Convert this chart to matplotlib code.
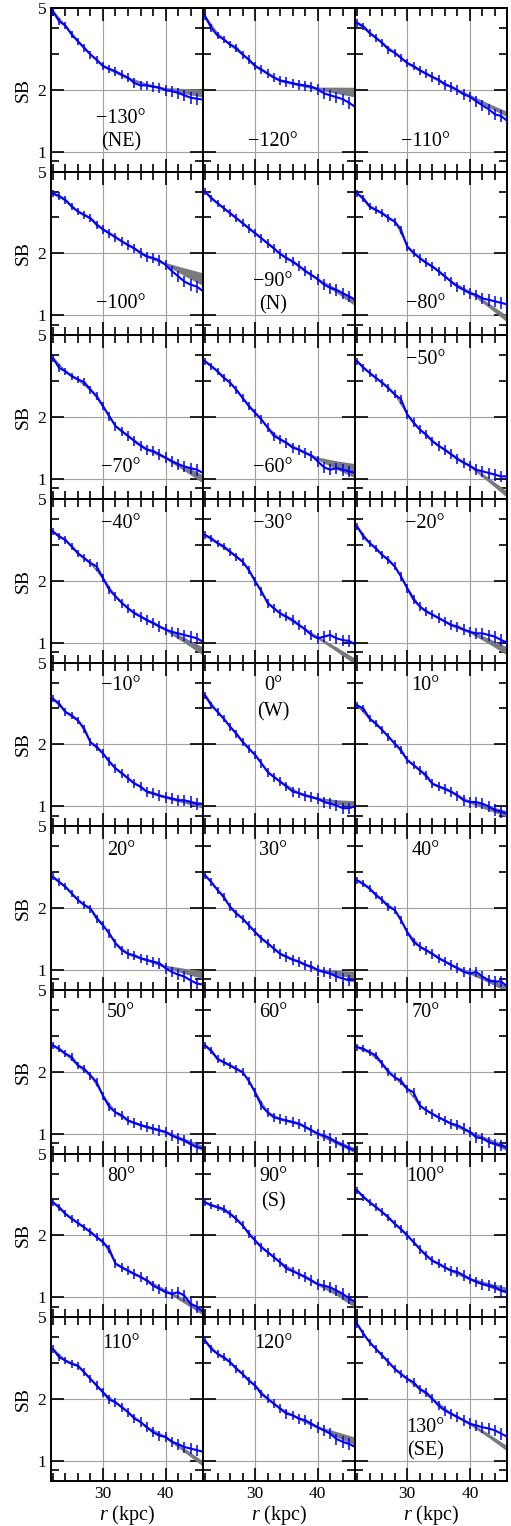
import matplotlib
matplotlib.use('Agg')
import matplotlib.pyplot as plt
from matplotlib.ticker import FixedLocator, MultipleLocator, NullFormatter, FuncFormatter

plt.rcParams['font.family'] = ['Liberation Serif', 'DejaVu Serif']
plt.rcParams['mathtext.fontset'] = 'custom'
plt.rcParams['mathtext.rm'] = 'Liberation Serif'
plt.rcParams['mathtext.it'] = 'Liberation Serif:italic'

radius = [22, 23, 24, 25, 26, 27, 28, 29, 30, 31, 32, 33, 34, 35, 36, 37, 38, 39, 40,
          41, 42, 43, 44, 45, 46]
# relative error bar size at each radius
sb_err = [0.040, 0.040, 0.040, 0.042, 0.043, 0.044, 0.045, 0.046, 0.047, 0.048, 0.050,
          0.050, 0.052, 0.053, 0.054, 0.055, 0.056, 0.058, 0.060, 0.060, 0.062, 0.063,
          0.064, 0.065, 0.066]

angles = [-130, -120, -110, -100, -90, -80, -70, -60, -50, -40, -30, -20, -10, 0, 10,
          20, 30, 40, 50, 60, 70, 80, 90, 100, 110, 120, 130]
compass = {-130: 'NE', -90: 'N', 0: 'W', 90: 'S', 130: 'SE'}

# measured surface brightness profiles
sb_m130 = [4.82, 4.31, 4.10, 3.71, 3.44, 3.20, 2.97, 2.80, 2.61, 2.53, 2.46, 2.37, 2.29, 2.16, 2.10, 2.10, 2.07, 2.05, 1.99, 1.97, 1.93, 1.88, 1.83, 1.81, 1.79]
sb_m120 = [4.56, 4.00, 3.67, 3.51, 3.32, 3.20, 2.97, 2.81, 2.61, 2.51, 2.40, 2.29, 2.22, 2.19, 2.15, 2.12, 2.10, 2.07, 2.01, 1.92, 1.88, 1.84, 1.80, 1.73, 1.65]
sb_m110 = [4.23, 4.07, 3.78, 3.58, 3.38, 3.14, 3.03, 2.86, 2.70, 2.61, 2.49, 2.40, 2.31, 2.24, 2.12, 2.07, 1.99, 1.90, 1.85, 1.76, 1.68, 1.61, 1.52, 1.49, 1.41]
sb_m100 = [3.92, 3.81, 3.64, 3.38, 3.20, 3.08, 2.97, 2.75, 2.62, 2.51, 2.40, 2.29, 2.20, 2.12, 2.01, 1.93, 1.90, 1.85, 1.76, 1.64, 1.55, 1.46, 1.41, 1.38, 1.31]
sb_m90 = [4.00, 3.71, 3.51, 3.32, 3.14, 2.97, 2.81, 2.65, 2.51, 2.37, 2.24, 2.12, 1.99, 1.90, 1.83, 1.74, 1.64, 1.57, 1.50, 1.41, 1.36, 1.33, 1.28, 1.24, 1.19]
sb_m80 = [3.92, 3.71, 3.38, 3.26, 3.14, 2.97, 2.86, 2.61, 2.16, 2.01, 1.90, 1.80, 1.73, 1.64, 1.55, 1.46, 1.38, 1.33, 1.28, 1.26, 1.21, 1.19, 1.17, 1.15, 1.13]
sb_m70 = [3.88, 3.47, 3.34, 3.16, 3.05, 2.96, 2.72, 2.53, 2.26, 2.02, 1.81, 1.71, 1.62, 1.53, 1.45, 1.39, 1.37, 1.32, 1.27, 1.22, 1.18, 1.15, 1.13, 1.11, 1.07]
sb_m60 = [3.74, 3.54, 3.34, 3.10, 2.94, 2.72, 2.48, 2.26, 2.10, 1.95, 1.78, 1.62, 1.56, 1.50, 1.42, 1.39, 1.34, 1.30, 1.22, 1.14, 1.11, 1.13, 1.11, 1.09, 1.07]
sb_m50 = [3.74, 3.47, 3.28, 3.10, 2.94, 2.77, 2.58, 2.44, 2.06, 1.88, 1.74, 1.65, 1.53, 1.45, 1.39, 1.32, 1.25, 1.20, 1.16, 1.11, 1.09, 1.07, 1.05, 1.03, 1.03]
sb_m40 = [3.47, 3.28, 3.16, 2.94, 2.72, 2.58, 2.44, 2.35, 2.06, 1.81, 1.68, 1.56, 1.47, 1.39, 1.34, 1.29, 1.25, 1.20, 1.16, 1.13, 1.11, 1.09, 1.07, 1.05, 1.01]
sb_m30 = [3.34, 3.22, 3.05, 2.94, 2.77, 2.62, 2.48, 2.26, 1.99, 1.78, 1.56, 1.47, 1.39, 1.34, 1.29, 1.22, 1.16, 1.09, 1.05, 1.07, 1.09, 1.05, 1.03, 1.02, 0.98]
sb_m20 = [3.67, 3.28, 3.05, 2.88, 2.67, 2.53, 2.35, 2.10, 1.84, 1.62, 1.50, 1.42, 1.37, 1.32, 1.27, 1.22, 1.20, 1.16, 1.13, 1.11, 1.11, 1.09, 1.07, 1.03, 1.00]
sb_m10 = [3.34, 3.16, 2.88, 2.77, 2.62, 2.39, 2.05, 1.95, 1.81, 1.65, 1.53, 1.45, 1.37, 1.29, 1.25, 1.18, 1.16, 1.13, 1.11, 1.09, 1.07, 1.07, 1.05, 1.03, 1.03]
sb_0 = [3.47, 3.10, 2.88, 2.67, 2.44, 2.26, 2.06, 1.91, 1.78, 1.62, 1.47, 1.39, 1.32, 1.25, 1.18, 1.16, 1.13, 1.11, 1.09, 1.05, 1.03, 1.01, 0.98, 0.98, 1.00]
sb_10 = [3.10, 2.99, 2.67, 2.53, 2.35, 2.18, 2.02, 1.88, 1.68, 1.59, 1.50, 1.42, 1.29, 1.25, 1.22, 1.18, 1.13, 1.07, 1.05, 1.05, 1.03, 1.00, 0.96, 0.94, 0.92]
sb_20 = [2.84, 2.68, 2.54, 2.36, 2.19, 2.07, 1.99, 1.78, 1.65, 1.51, 1.35, 1.25, 1.20, 1.18, 1.14, 1.12, 1.10, 1.08, 1.02, 0.98, 0.95, 0.93, 0.89, 0.86, 0.85]
sb_30 = [2.89, 2.68, 2.45, 2.27, 2.03, 1.88, 1.78, 1.65, 1.53, 1.42, 1.35, 1.27, 1.20, 1.16, 1.12, 1.10, 1.06, 1.04, 1.00, 0.98, 0.96, 0.93, 0.91, 0.89, 0.89]
sb_40 = [2.73, 2.63, 2.49, 2.31, 2.19, 2.03, 1.96, 1.75, 1.53, 1.37, 1.30, 1.25, 1.20, 1.14, 1.10, 1.06, 1.02, 0.98, 0.96, 0.98, 0.93, 0.89, 0.88, 0.88, 0.83]
sb_50 = [2.69, 2.59, 2.45, 2.36, 2.15, 2.07, 1.92, 1.78, 1.53, 1.35, 1.27, 1.23, 1.16, 1.13, 1.10, 1.08, 1.06, 1.04, 1.02, 0.98, 0.95, 0.93, 0.89, 0.86, 0.85]
sb_60 = [2.69, 2.54, 2.31, 2.23, 2.15, 2.07, 1.99, 1.81, 1.59, 1.37, 1.27, 1.20, 1.18, 1.16, 1.14, 1.12, 1.08, 1.04, 1.00, 0.98, 0.95, 0.91, 0.88, 0.85, 0.83]
sb_70 = [2.64, 2.59, 2.49, 2.40, 2.19, 1.99, 1.88, 1.81, 1.65, 1.59, 1.37, 1.30, 1.25, 1.20, 1.16, 1.12, 1.10, 1.06, 1.02, 0.96, 0.95, 0.91, 0.89, 0.88, 0.85]
sb_80 = [2.90, 2.75, 2.55, 2.41, 2.30, 2.19, 2.08, 1.96, 1.86, 1.72, 1.46, 1.40, 1.35, 1.30, 1.26, 1.21, 1.14, 1.10, 1.06, 1.04, 1.06, 1.02, 0.93, 0.90, 0.85]
sb_90 = [2.90, 2.80, 2.75, 2.69, 2.55, 2.41, 2.24, 2.04, 1.89, 1.75, 1.66, 1.57, 1.48, 1.38, 1.34, 1.30, 1.26, 1.21, 1.16, 1.14, 1.12, 1.08, 1.04, 0.99, 0.95]
sb_100 = [3.31, 3.07, 2.90, 2.75, 2.60, 2.45, 2.28, 2.15, 2.00, 1.86, 1.72, 1.60, 1.51, 1.46, 1.40, 1.35, 1.33, 1.28, 1.23, 1.19, 1.16, 1.14, 1.12, 1.08, 1.06]
sb_110 = [3.51, 3.20, 3.08, 2.97, 2.91, 2.70, 2.51, 2.33, 2.16, 1.99, 1.93, 1.83, 1.73, 1.61, 1.55, 1.46, 1.38, 1.33, 1.31, 1.24, 1.21, 1.17, 1.15, 1.13, 1.11]
sb_120 = [3.85, 3.51, 3.32, 3.20, 3.03, 2.81, 2.65, 2.46, 2.33, 2.12, 2.01, 1.90, 1.80, 1.70, 1.67, 1.61, 1.58, 1.52, 1.46, 1.41, 1.36, 1.28, 1.24, 1.21, 1.17]
sb_130 = [4.64, 4.15, 3.78, 3.51, 3.26, 3.03, 2.81, 2.65, 2.51, 2.42, 2.24, 2.16, 2.01, 1.86, 1.76, 1.70, 1.64, 1.58, 1.52, 1.49, 1.46, 1.44, 1.41, 1.36, 1.31]

# model (gray band) read at coarser radii
model_r = [22, 24, 26, 28, 30, 32, 34, 37, 40, 43, 46]
model_m130 = [4.82, 4.10, 3.44, 2.97, 2.61, 2.44, 2.28, 2.12, 2.02, 1.97, 1.93]
model_m120 = [4.56, 3.75, 3.32, 2.97, 2.61, 2.40, 2.22, 2.12, 2.03, 1.99, 1.95]
model_m110 = [4.23, 3.78, 3.38, 3.03, 2.70, 2.49, 2.31, 2.07, 1.87, 1.68, 1.52]
model_m100 = [3.92, 3.64, 3.20, 2.97, 2.62, 2.40, 2.20, 1.95, 1.78, 1.63, 1.50]
model_m90 = [4.00, 3.51, 3.14, 2.81, 2.51, 2.24, 1.99, 1.74, 1.50, 1.32, 1.15]
model_m80 = [3.92, 3.38, 3.14, 2.86, 2.16, 1.90, 1.73, 1.46, 1.30, 1.12, 0.96]
model_m70 = [3.88, 3.34, 3.05, 2.72, 2.26, 1.81, 1.62, 1.40, 1.27, 1.13, 1.00]
model_m60 = [3.74, 3.34, 2.94, 2.48, 2.10, 1.78, 1.56, 1.39, 1.26, 1.17, 1.10]
model_m50 = [3.74, 3.28, 2.94, 2.58, 2.06, 1.74, 1.53, 1.32, 1.16, 0.99, 0.84]
model_m40 = [3.47, 3.16, 2.72, 2.44, 2.06, 1.68, 1.47, 1.29, 1.16, 1.03, 0.91]
model_m30 = [3.34, 3.05, 2.77, 2.48, 1.99, 1.56, 1.39, 1.22, 1.06, 0.93, 0.81]
model_m20 = [3.67, 3.05, 2.67, 2.35, 1.84, 1.50, 1.37, 1.22, 1.13, 1.02, 0.91]
model_m10 = [3.34, 2.88, 2.62, 2.05, 1.81, 1.53, 1.37, 1.18, 1.11, 1.06, 1.01]
model_0 = [3.47, 2.88, 2.44, 2.06, 1.78, 1.47, 1.32, 1.16, 1.09, 1.05, 1.03]
model_10 = [3.10, 2.67, 2.35, 2.02, 1.68, 1.50, 1.29, 1.18, 1.05, 0.98, 0.92]
model_20 = [2.84, 2.54, 2.19, 1.99, 1.65, 1.35, 1.20, 1.12, 1.04, 0.99, 0.95]
model_30 = [2.89, 2.45, 2.03, 1.78, 1.53, 1.35, 1.20, 1.10, 1.00, 0.97, 0.95]
model_40 = [2.73, 2.49, 2.19, 1.96, 1.53, 1.30, 1.20, 1.06, 0.97, 0.89, 0.81]
model_50 = [2.69, 2.45, 2.15, 1.92, 1.53, 1.27, 1.16, 1.08, 1.02, 0.93, 0.85]
model_60 = [2.69, 2.31, 2.15, 1.99, 1.59, 1.27, 1.18, 1.12, 1.00, 0.91, 0.83]
model_70 = [2.64, 2.49, 2.19, 1.88, 1.65, 1.37, 1.25, 1.12, 1.02, 0.93, 0.85]
model_80 = [2.90, 2.55, 2.30, 2.08, 1.86, 1.46, 1.35, 1.21, 1.08, 0.96, 0.85]
model_90 = [2.90, 2.75, 2.55, 2.24, 1.89, 1.66, 1.48, 1.30, 1.16, 1.05, 0.92]
model_100 = [3.31, 2.90, 2.60, 2.28, 2.00, 1.72, 1.51, 1.35, 1.23, 1.15, 1.08]
model_110 = [3.51, 3.08, 2.91, 2.51, 2.16, 1.93, 1.73, 1.46, 1.31, 1.13, 0.97]
model_120 = [3.85, 3.32, 3.03, 2.65, 2.33, 2.01, 1.80, 1.61, 1.46, 1.35, 1.25]
model_130 = [4.64, 3.78, 3.26, 2.81, 2.51, 2.24, 2.01, 1.70, 1.52, 1.33, 1.15]
# relative half width of the model band at the outer edge
band_end = [0.030, 0.040, 0.015, 0.057, 0.020, 0.020, 0.030, 0.065, 0.020,
            0.030, 0.020, 0.030, 0.015, 0.020, 0.020, 0.030, 0.025, 0.020,
            0.015, 0.015, 0.015, 0.020, 0.020, 0.020, 0.015, 0.030, 0.015]

profiles = [sb_m130, sb_m120, sb_m110, sb_m100, sb_m90, sb_m80, sb_m70, sb_m60, sb_m50,
            sb_m40, sb_m30, sb_m20, sb_m10, sb_0, sb_10, sb_20, sb_30, sb_40,
            sb_50, sb_60, sb_70, sb_80, sb_90, sb_100, sb_110, sb_120, sb_130]
models = [model_m130, model_m120, model_m110, model_m100, model_m90, model_m80, model_m70,
          model_m60, model_m50, model_m40, model_m30, model_m20, model_m10, model_0,
          model_10, model_20, model_30, model_40, model_50, model_60, model_70, model_80,
          model_90, model_100, model_110, model_120, model_130]

# vertical placement of the angle label(s) in each panel (axes fraction)
label_y = [(0.327, 0.184), (0.184,), (0.184,),
           (0.194,), (0.327, 0.184), (0.194,),
           (0.19,), (0.19,), (0.853,),
           (0.853,), (0.853,), (0.853,),
           (0.861,), (0.861, 0.702), (0.861,),
           (0.851,), (0.851,), (0.851,),
           (0.863,), (0.863,), (0.863,),
           (0.859,), (0.859, 0.706), (0.859,),
           (0.839,), (0.839,), (0.329, 0.186)]

fig, axes = plt.subplots(9, 3, figsize=(5.11, 15.26), dpi=100, sharex=True, sharey=True)
fig.subplots_adjust(left=0.0998, right=0.993, top=0.9948, bottom=0.0295,
                    hspace=0, wspace=0)

for i, ax in enumerate(axes.flat):
    ang = angles[i]
    vals = profiles[i]
    mod = models[i]
    base = 0.015
    hw = [base] * 9 + [base + band_end[i] / 2, base + band_end[i]]
    ax.set_yscale('log')
    ax.fill_between(model_r, [m * (1 - h) for m, h in zip(mod, hw)],
                    [m * (1 + h) for m, h in zip(mod, hw)],
                    color='#7a7a7a', lw=0, zorder=2)
    ax.errorbar(radius, vals, yerr=[v * e for v, e in zip(vals, sb_err)],
                fmt='-', color='#0000ff', lw=1.5, elinewidth=1.1, capsize=0, zorder=3)

    ax.set_xlim(21.7, 46)
    ax.set_ylim(0.8, 5)
    ax.yaxis.set_major_locator(FixedLocator([1, 2, 5]))
    ax.yaxis.set_minor_locator(FixedLocator([0.9, 3, 4]))
    ax.yaxis.set_major_formatter(FuncFormatter(lambda v, p: f'{v:g}'))
    ax.yaxis.set_minor_formatter(NullFormatter())
    ax.xaxis.set_major_locator(FixedLocator([30, 40]))
    ax.xaxis.set_minor_locator(MultipleLocator(2))
    ax.grid(True, which='major', color='#a0a0a0', lw=0.8, zorder=1)
    ax.tick_params(which='both', direction='in', top=True, right=True, width=1.2,
                   labelsize=12.5)
    ax.tick_params(which='major', length=9.5)
    ax.tick_params(which='minor', length=5.5)
    for s in ax.spines.values():
        s.set_linewidth(1.4)

    txt = ('\u2212' if ang < 0 else '') + f'{abs(ang)}\u00b0'
    ax.text(0.46, label_y[i][0], txt, transform=ax.transAxes, ha='center',
            va='center', fontsize=14.5, zorder=4)
    if len(label_y[i]) > 1:
        ax.text(0.46, label_y[i][1], f'({compass[ang]})', transform=ax.transAxes,
                ha='center', va='center', fontsize=14.5, zorder=4)

    if i % 3 == 0:
        ax.set_ylabel('SB', fontsize=14)
    if i >= 24:
        ax.set_xlabel('$r$ (kpc)', fontsize=14.5, labelpad=1)

fig.savefig('out.png', dpi=100)
